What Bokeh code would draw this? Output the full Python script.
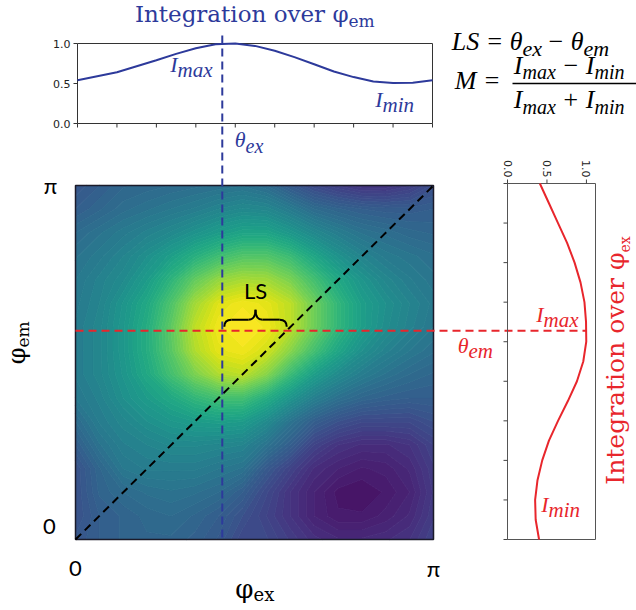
import numpy as np
from bokeh.plotting import figure
from bokeh.plotting.contour import contour_data
from bokeh.models import Range1d
from bokeh.palettes import Viridis256
from bokeh.core.properties import value
from bokeh.embed import file_html
from bokeh.resources import INLINE

PI = np.pi

# ---------------- data ----------------
theta_ex = 0.41 * PI          # position of the blue cut (phi_ex of max)
theta_em = 0.59 * PI          # position of the red cut (phi_em of max)

# integration over phi_em, sampled along phi_ex (0..pi in 18 steps)
top_frac = [0, 1/18, 2/18, 3/18, 4/18, 5/18, 6/18, 7/18, 8/18, 9/18,
            10/18, 11/18, 12/18, 13/18, 14/18, 15/18, 16/18, 17/18, 1]
top_I = [0.54, 0.59, 0.64, 0.715, 0.79, 0.87, 0.94, 0.99, 1.0, 0.97,
         0.91, 0.83, 0.74, 0.65, 0.58, 0.525, 0.505, 0.51, 0.54]

# integration over phi_ex, sampled along phi_em (0..pi in 18 steps)
right_frac = top_frac
right_I = [0.40, 0.357, 0.35, 0.38, 0.44, 0.525, 0.64, 0.765, 0.88, 0.96,
           0.998, 0.995, 0.975, 0.925, 0.85, 0.755, 0.64, 0.525, 0.41]

# 2-D intensity map on a 16 x 16 grid, rows listed from phi_em = pi (top) down to 0
heat_rows_top_down = [
    [0.27, 0.30, 0.33, 0.34, 0.35, 0.36, 0.37, 0.38, 0.35, 0.28, 0.22, 0.18, 0.15, 0.15, 0.18, 0.24],
    [0.30, 0.33, 0.36, 0.38, 0.40, 0.42, 0.45, 0.47, 0.46, 0.41, 0.35, 0.32, 0.30, 0.29, 0.29, 0.30],
    [0.35, 0.38, 0.41, 0.44, 0.47, 0.51, 0.55, 0.58, 0.58, 0.53, 0.47, 0.42, 0.38, 0.36, 0.34, 0.33],
    [0.38, 0.41, 0.45, 0.50, 0.56, 0.63, 0.69, 0.73, 0.73, 0.68, 0.59, 0.51, 0.45, 0.41, 0.39, 0.37],
    [0.40, 0.44, 0.48, 0.55, 0.65, 0.76, 0.84, 0.87, 0.86, 0.80, 0.70, 0.60, 0.52, 0.46, 0.42, 0.39],
    [0.41, 0.45, 0.52, 0.60, 0.72, 0.86, 0.95, 0.98, 0.96, 0.90, 0.78, 0.66, 0.56, 0.50, 0.45, 0.41],
    [0.42, 0.46, 0.53, 0.62, 0.75, 0.90, 0.98, 1.00, 0.98, 0.90, 0.78, 0.66, 0.56, 0.49, 0.44, 0.40],
    [0.42, 0.46, 0.53, 0.62, 0.74, 0.88, 0.96, 0.98, 0.93, 0.82, 0.70, 0.59, 0.50, 0.44, 0.40, 0.37],
    [0.42, 0.46, 0.52, 0.60, 0.70, 0.80, 0.88, 0.90, 0.82, 0.68, 0.56, 0.48, 0.42, 0.38, 0.35, 0.33],
    [0.40, 0.44, 0.50, 0.55, 0.60, 0.66, 0.70, 0.70, 0.62, 0.52, 0.43, 0.37, 0.33, 0.31, 0.30, 0.30],
    [0.35, 0.42, 0.46, 0.50, 0.53, 0.55, 0.56, 0.55, 0.48, 0.38, 0.30, 0.25, 0.22, 0.22, 0.22, 0.25],
    [0.30, 0.38, 0.43, 0.45, 0.47, 0.47, 0.46, 0.45, 0.38, 0.30, 0.20, 0.15, 0.13, 0.13, 0.15, 0.20],
    [0.25, 0.33, 0.40, 0.42, 0.42, 0.42, 0.40, 0.38, 0.28, 0.20, 0.13, 0.10, 0.08, 0.09, 0.12, 0.18],
    [0.25, 0.32, 0.35, 0.37, 0.38, 0.37, 0.35, 0.30, 0.22, 0.15, 0.10, 0.06, 0.05, 0.07, 0.10, 0.17],
    [0.25, 0.30, 0.32, 0.34, 0.35, 0.33, 0.30, 0.25, 0.20, 0.15, 0.10, 0.07, 0.07, 0.09, 0.12, 0.18],
    [0.27, 0.30, 0.32, 0.33, 0.33, 0.31, 0.28, 0.22, 0.22, 0.18, 0.14, 0.12, 0.12, 0.13, 0.15, 0.20],
]

top_yticks = [0.0, 0.5, 1.0]
top_ylabels = ["0.0", "0.5", "1.0"]
right_xticks = [0.0, 0.5, 1.0]
right_xlabels = ["0.0", "0.5", "1.0"]
angle_ticks_frac = [0, 1/9, 2/9, 3/9, 4/9, 5/9, 6/9, 7/9, 8/9, 1]

# ---------------- layout / style ----------------
W, H = 636, 610
HEAT = (75, 433, 185, 539)     # left, right, top, bottom (px)
TOP = (77, 432, 43, 123)
RIGHT = (507, 595, 183, 539)
RIGHT_XMAX = 1.115
BLUE = "#2d3a9b"
RED = "#e8262c"
SERIF = "DejaVu Serif"
MATH = "Liberation Serif"
SANS = "Lato"
TICK = 4
MID = 0.345   # distance baseline -> middle of the em box, in em

p = figure(width=W, height=H, x_range=Range1d(0, W), y_range=Range1d(H, 0),
           x_axis_location=None, y_axis_location=None, toolbar_location=None,
           output_backend="svg", min_border=0)
p.grid.visible = False
p.outline_line_color = None
p.background_fill_color = "white"

heat = p.subplot(x_source=Range1d(0, PI), y_source=Range1d(0, PI),
                 x_target=Range1d(HEAT[0], HEAT[1]), y_target=Range1d(HEAT[3], HEAT[2]))
top = p.subplot(x_source=Range1d(0, PI), y_source=Range1d(0, 1),
                x_target=Range1d(TOP[0], TOP[1]), y_target=Range1d(TOP[3], TOP[2]))
right = p.subplot(x_source=Range1d(0, RIGHT_XMAX), y_source=Range1d(0, PI),
                  x_target=Range1d(RIGHT[0], RIGHT[1]), y_target=Range1d(RIGHT[3], RIGHT[2]))
# mixed mappings for the connecting cuts (data along one axis, page along the other)
vcut = p.subplot(x_source=Range1d(0, PI), y_source=Range1d(0, H),
                 x_target=Range1d(HEAT[0], HEAT[1]), y_target=Range1d(0, H))
hcut = p.subplot(x_source=Range1d(0, W), y_source=Range1d(0, PI),
                 x_target=Range1d(0, W), y_target=Range1d(HEAT[3], HEAT[2]))
rlab = p.subplot(x_source=Range1d(0, RIGHT_XMAX), y_source=Range1d(0, H),
                 x_target=Range1d(RIGHT[0], RIGHT[1]), y_target=Range1d(0, H))

# ---------------- heat map (filled contours of the read grid) ----------------
Z = np.array(heat_rows_top_down)[::-1]
grid = np.linspace(0, PI, Z.shape[1])
levels = list(np.linspace(0, 1, 61))
levels[-1] = 1.001
cd = contour_data(grid, grid, Z, levels, want_fill=True, want_line=False)
fd = cd.fill_data
mids = (np.asarray(fd.lower_levels) + np.asarray(fd.upper_levels)) / 2
cols = [Viridis256[min(255, int(m * 255.99))] for m in mids]
heat.multi_polygons(xs=fd.xs, ys=fd.ys, fill_color=cols, line_color=cols, line_width=0.8)
heat.quad(left=[0], right=[PI], bottom=[0], top=[PI], fill_color=None,
          line_color="#1b1b2a", line_width=1.5)
heat.line(x=[0, PI], y=[0, PI], line_color="black", line_dash="8 5", line_width=2)

# cuts
vcut.line(x=[theta_ex, theta_ex], y=[35, HEAT[3]], line_color=BLUE, line_dash="8 5", line_width=2)
hcut.line(x=[HEAT[0], 586], y=[theta_em, theta_em], line_color=RED, line_dash="8 5", line_width=2)

# brace between theta_ex and the diagonal on the red cut
px = PI / (HEAT[3] - HEAT[2])
x0, x1 = theta_ex + 2 * px, theta_em
xm = (x0 + x1) / 2
r = 7 * px
y0, y1, y2 = theta_em + 4 * px, theta_em + 11 * px, theta_em + 21 * px
heat.quadratic(x0=[x0, xm - r, xm, x1 - r], y0=[y0, y1, y2, y1],
               x1=[x0 + r, xm, xm + r, x1], y1=[y1, y2, y1, y0],
               cx=[x0, xm, xm, x1], cy=[y1, y1, y1, y1], line_color="black", line_width=2)
heat.segment(x0=[x0 + r, xm + r], y0=[y1, y1], x1=[xm - r, x1 - r], y1=[y1, y1],
             line_color="black", line_width=2)
heat.text(x=[xm], y=[theta_em], text=["LS"], y_offset=-40, text_align="center",
          text_baseline="middle", text_font=value(SANS), text_font_size="22px", text_color="black")

# heat map corner labels
heat.text(x=[0, 0], y=[PI, 0], text=["π", "0"], x_offset=[-25, -26], y_offset=[0, -13],
          text_align="center", text_baseline="middle", text_font=value(SANS),
          text_font_size="22px", text_color="black")
heat.text(x=[0, PI], y=[0, 0], text=["0", "π"], y_offset=[29, 29],
          text_align="center", text_baseline="middle", text_font=value(SANS),
          text_font_size="22px", text_color="black")

# ---------------- top profile ----------------
top_x = [f * PI for f in top_frac]
top.quad(left=[0], right=[PI], bottom=[0], top=[1], fill_color=None, line_color="#333333", line_width=1)
top.line(x=top_x, y=top_I, line_color=BLUE, line_width=2)
tx = [f * PI for f in angle_ticks_frac]
dy = TICK / (TOP[3] - TOP[2])
dx = TICK * PI / (TOP[1] - TOP[0])
top.segment(x0=tx, y0=[0] * len(tx), x1=tx, y1=[-dy] * len(tx), line_color="#333333")
top.segment(x0=[0] * 3, y0=top_yticks, x1=[-dx] * 3, y1=top_yticks, line_color="#333333")
top.text(x=[0] * 3, y=top_yticks, text=top_ylabels, x_offset=-7, text_align="right",
         text_baseline="middle", text_font=value("DejaVu Sans"), text_font_size="11px", text_color="#222222")

# ---------------- right profile ----------------
right_y = [f * PI for f in right_frac]
right.quad(left=[0], right=[RIGHT_XMAX], bottom=[0], top=[PI], fill_color=None, line_color="#555555", line_width=1)
right.line(x=right_I, y=right_y, line_color=RED, line_width=2)
ry = [f * PI for f in angle_ticks_frac]
rdx = TICK * RIGHT_XMAX / (RIGHT[1] - RIGHT[0])
rdy = TICK * PI / (RIGHT[3] - RIGHT[2])
right.segment(x0=[0] * len(ry), y0=ry, x1=[-rdx] * len(ry), y1=ry, line_color="#444444")
right.segment(x0=right_xticks, y0=[PI] * 3, x1=right_xticks, y1=[PI + rdy] * 3, line_color="#444444")
rlab.text(x=right_xticks, y=[RIGHT[2] - 6] * 3, text=right_xlabels, angle=-PI / 2,
          text_align="right", text_baseline="middle", text_font=value("DejaVu Sans"),
          text_font_size="11px", text_color="#222222")


# ---------------- math-like labels ----------------
def txt(x, y, s, size, color, align="left", style="normal", angle=0.0, font=MATH):
    """(x, y) is the point on the text baseline; anchored at the em-box middle."""
    if angle == 0:
        ax, ay = x, y - MID * size
    else:   # rotated 90 deg counter-clockwise: baseline is a vertical line at x
        ax, ay = x - MID * size, y
    p.text(x=[ax], y=[ay], text=[s], text_align=align, text_baseline="middle", angle=angle,
           text_font=value(font), text_font_size=f"{size}px", text_font_style=style, text_color=color)


def sub(xj, yb, base, s, size, ssize, color, drop=5, bstyle="italic", sstyle="italic",
        rot=False, font=MATH):
    if not rot:
        txt(xj, yb, base, size, color, align="right", style=bstyle, font=font)
        txt(xj, yb + drop, s, ssize, color, align="left", style=sstyle, font=font)
    else:
        txt(xj, yb, base, size, color, align="right", style=bstyle, angle=PI / 2, font=font)
        txt(xj + drop, yb, s, ssize, color, align="left", style=sstyle, angle=PI / 2, font=font)


# title of the top profile
sub(348, 21, "Integration over φ", "em", 23, 17, BLUE, drop=5, bstyle="normal", sstyle="normal", font=SERIF)
sub(177, 72, "I", "max", 22, 21, BLUE)
sub(382, 107, "I", "min", 22, 21, BLUE)
sub(245, 147, "θ", "ex", 22, 20, BLUE)

# right profile labels
sub(624, 252, "Integration over φ", "ex", 25, 14, RED, drop=5, bstyle="normal", sstyle="normal",
    rot=True, font=SERIF)
sub(543, 322, "I", "max", 22, 21, RED)
sub(548, 512, "I", "min", 22, 21, RED)
sub(468, 353, "θ", "em", 22, 21, RED)

# axis names of the map
sub(253, 597, "φ", "ex", 26, 18, "black", drop=3, bstyle="normal", sstyle="normal", font=SERIF)
sub(25, 347, "φ", "em", 24, 17, "black", drop=3, bstyle="normal", sstyle="normal", rot=True, font=SERIF)

# formulas
sub(522, 50, "LS = θ", "ex", 26, 22, "black", drop=6)
sub(583, 50, "− θ", "em", 26, 22, "black", drop=6)
txt(500, 89, "M =", 26, "black", align="right", style="italic")
p.segment(x0=[512], y0=[83], x1=[636], y1=[83], line_color="black", line_width=1.5)
sub(522, 74, "I", "max", 26, 20, "black", drop=4)
sub(594, 74, "− I", "min", 26, 20, "black", drop=4)
sub(522, 108, "I", "max", 26, 20, "black", drop=5)
sub(594, 108, "+ I", "min", 26, 20, "black", drop=5)

open("out.html", "w").write(file_html(p, INLINE))
